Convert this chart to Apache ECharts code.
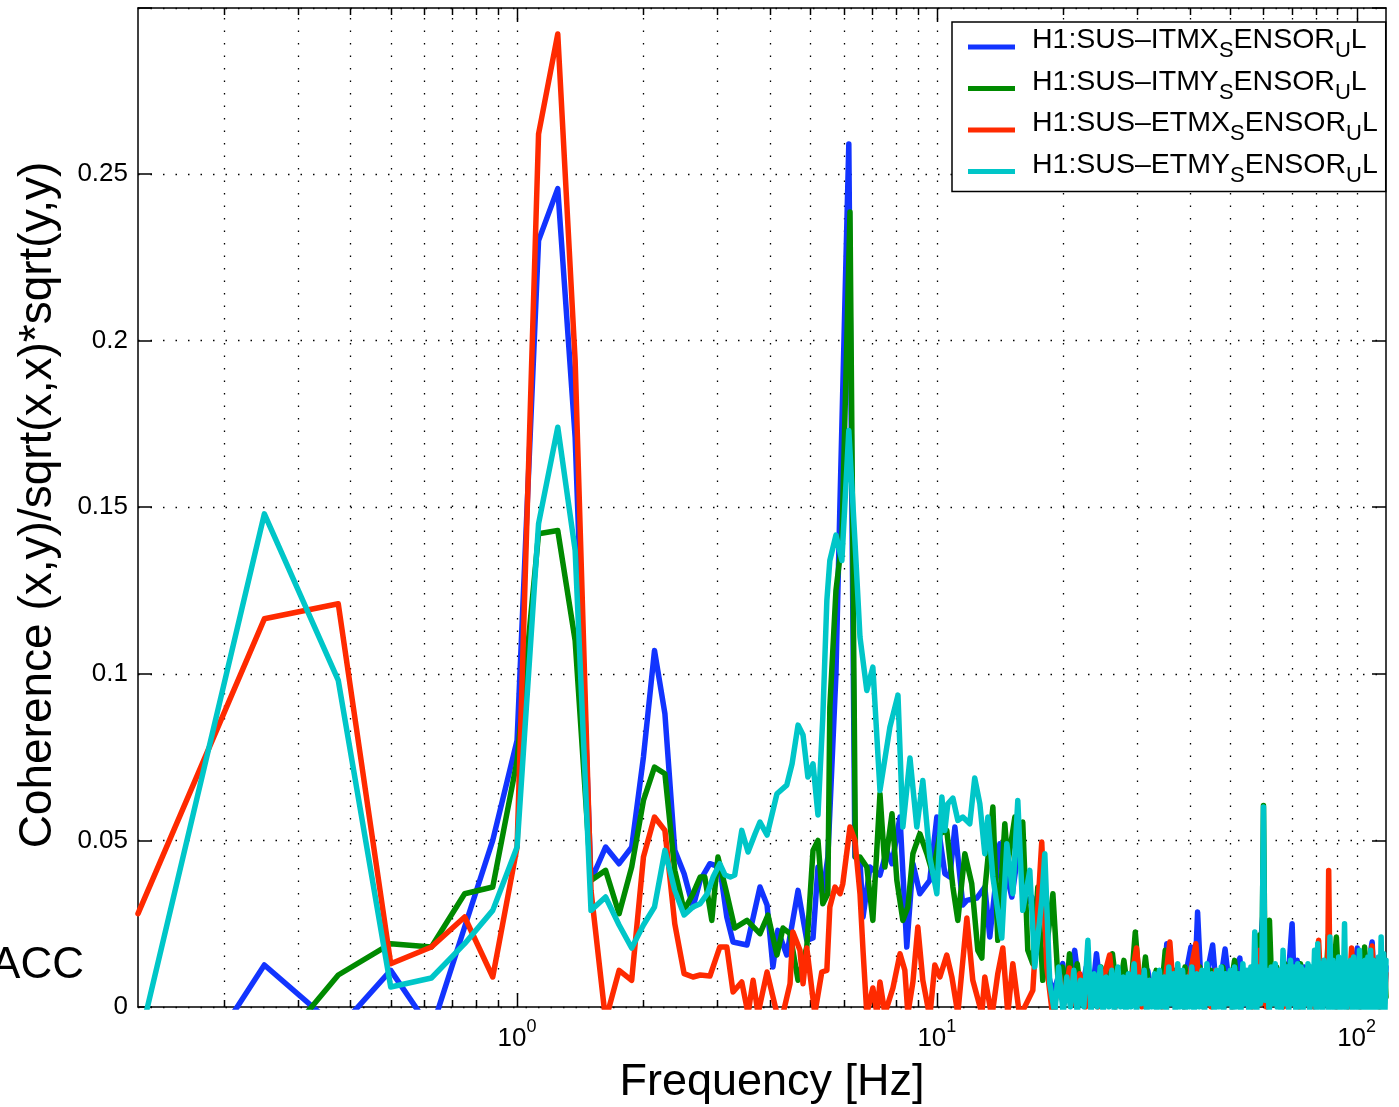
<!DOCTYPE html>
<html><head><meta charset="utf-8">
<script src="https://cdn.jsdelivr.net/npm/echarts@6/dist/echarts.min.js"></script>
<style>html,body{margin:0;padding:0;background:#fff;}#c{width:1399px;height:1107px;}</style>
</head><body><div id="c"></div>
<script>
const FONT = '"Liberation Sans", Arial, Helvetica, sans-serif';

// ---------- data ----------
const seriesNames = ['H1:SUS-ITMX_SENSOR_UL','H1:SUS-ITMY_SENSOR_UL','H1:SUS-ETMX_SENSOR_UL','H1:SUS-ETMY_SENSOR_UL'];
const gridFreqs = [0.2,0.3,0.4,0.5,0.6,0.7,0.8,0.9,1,2,3,4,5,6,7,8,9,10,20,30,40,50,60,70,80,90,100];
const majorFreqs = [1,10,100];
const xRange = [0.125, 117.5];
const yRange = [0, 0.2998];
const yStep = 0.05;

// [frequency (Hz), coherence]
const itmx = [[0.125,-0.046],[0.25,0.0126],[0.375,-0.0066],[0.5,0.011],[0.625,-0.007],[0.75,0.024],[0.875,0.050],[1.0,0.080],[1.125,0.230],[1.25,0.2456],[1.375,0.171],[1.5,0.038],[1.625,0.048],[1.75,0.043],[1.875,0.048],[2.0,0.075],[2.125,0.107],[2.25,0.088],[2.375,0.047],[2.5,0.040],[2.625,0.030],
[2.73,0.038],[2.88,0.043],[3.04,0.042],[3.16,0.027],[3.27,0.0195],[3.53,0.0186],[3.79,0.036],[3.94,0.0306],[4.07,0.012],[4.18,0.023],[4.39,0.0156],[4.67,0.035],[4.90,0.020],[5.07,0.0207],[5.21,0.042],[5.35,0.034],[5.5,0.045],[5.75,0.10],[5.875,0.15],[6.17,0.259],[6.38,0.045],[6.56,0.044],[6.67,0.027],[6.93,0.042],[7.32,0.0396],[7.60,0.047],[7.82,0.043],[8.17,0.057],[8.48,0.018],[8.77,0.043],[9.11,0.034],[9.62,0.038],[10.0,0.057],[10.45,0.040],[10.74,0.039],[11.04,0.054],[11.53,0.0306],[11.79,0.032],[12.45,0.0327],[13.01,0.036],[13.37,0.021],[14.13,0.049],[14.52,0.042],[15.09,0.033],[15.76,0.050],[16.20,0.031],[16.84,0.033],[17.30,0.019],[18.28,0.012],[18.89,0.004],
[19.95,0.013],[20.4,0.002],[21.3,0.017],[22.0,0.003],[22.7,0.012],[23.4,0.002],[24.0,0.016],[24.8,0.001],[25.8,0.010],[26.8,0.002],[27.8,0.011],[28.8,0.001],[29.8,0.009],[30.8,0.002],[31.8,0.011],[32.8,0.001],[33.8,0.009],[34.6,0.002],[35.3,0.019],[36.2,0.001],[37.2,0.010],[38.2,0.002],[39.2,0.010],[40.3,0.018],[41.0,0.002],[41.8,0.0285],[42.8,0.001],[44.0,0.010],[45.4,0.0186],[46.6,0.001],[48.6,0.0174],[50.2,0.002],[51.5,0.011],[52.7,0.0147],[54.0,0.001],[55.5,0.011],[57.0,0.002],[58.5,0.012],[60.0,0.030],[61.5,0.002],[63.0,0.012],[64.5,0.001],[66.0,0.011],[67.5,0.002],[69.0,0.012],[70.2,0.025],[71.2,0.002],[72.2,0.014],[73.5,0.001],[75.0,0.012],[76.5,0.002],[78.0,0.011],[79.5,0.001],[81.0,0.012],[82.5,0.002],[84.0,0.011],[85.5,0.001],[87.0,0.013],[88.5,0.002],[90.0,0.012],[91.5,0.001],[93.0,0.013],[94.5,0.002],[96.0,0.012],[97.5,0.001],[99.0,0.012],[100.4,0.0177],[102.0,0.002],[103.5,0.013],[105.0,0.001],[106.5,0.012],[108.9,0.0195],[110.5,0.002],[112.0,0.013],[113.5,0.001],[115.0,0.014],[116.5,0.002],[117.5,0.012]];

const itmy = [[0.125,-0.05],[0.25,-0.017],[0.375,0.0096],[0.5,0.019],[0.625,0.018],[0.75,0.034],[0.875,0.036],[1.0,0.074],[1.125,0.142],[1.25,0.143],[1.375,0.11],[1.5,0.038],[1.625,0.041],[1.75,0.028],[1.875,0.042],[2.0,0.062],[2.125,0.072],[2.25,0.070],[2.375,0.041],[2.5,0.029],[2.625,0.034],
[2.73,0.039],[2.80,0.039],[2.91,0.026],[3.01,0.045],[3.16,0.034],[3.30,0.0237],[3.53,0.026],[3.79,0.022],[3.96,0.0276],[4.16,0.0156],[4.30,0.0237],[4.47,0.022],[4.67,0.008],[4.90,0.018],[5.07,0.047],[5.21,0.050],[5.35,0.031],[5.50,0.034],[5.56,0.09],[5.75,0.125],[5.94,0.14],[6.21,0.2386],[6.40,0.045],[6.56,0.045],[6.81,0.042],[7.04,0.026],[7.32,0.064],[7.52,0.042],[7.82,0.058],[8.03,0.038],[8.30,0.026],[8.53,0.030],[8.77,0.046],[9.11,0.052],[9.47,0.046],[9.78,0.040],[10.17,0.052],[10.56,0.053],[10.92,0.036],[11.22,0.026],[11.66,0.046],[12.11,0.037],[12.52,0.017],[12.80,0.0147],[13.01,0.035],[13.60,0.060],[13.97,0.020],[14.52,0.055],[14.76,0.043],[15.34,0.057],[15.76,0.046],[16.02,0.0555],[16.47,0.017],[16.93,0.013],[17.40,0.036],[17.88,0.008],[18.9,0.034],[19.42,0.009],
[19.9,0.012],[20.3,0.002],[20.7,0.016],[21.2,0.002],[21.6,0.013],[22.2,0.001],[23.0,0.011],[23.8,0.002],[24.6,0.012],[25.4,0.001],[26.2,0.016],[27.0,0.002],[27.9,0.014],[28.8,0.001],[29.7,0.0225],[30.6,0.002],[31.4,0.015],[32.3,0.001],[33.3,0.011],[34.2,0.002],[35.0,0.017],[36.0,0.001],[37.0,0.011],[38.0,0.002],[39.0,0.012],[40.0,0.001],[42.3,0.012],[43.5,0.002],[45.0,0.011],[46.5,0.001],[48.0,0.012],[49.5,0.002],[51.2,0.014],[52.5,0.001],[54.0,0.011],[55.5,0.002],[57.0,0.012],[58.7,0.0216],[59.4,0.002],[60.0,0.0605],[60.6,0.002],[62.0,0.026],[63.0,0.001],[64.5,0.012],[66.0,0.002],[67.5,0.013],[69.0,0.001],[70.5,0.012],[72.0,0.002],[73.5,0.013],[75.0,0.001],[76.5,0.012],[78.0,0.002],[79.5,0.012],[81.0,0.001],[82.5,0.013],[84.0,0.002],[85.7,0.0216],[87.0,0.001],[89.5,0.021],[91.0,0.002],[92.5,0.013],[94.0,0.001],[95.5,0.012],[97.0,0.002],[98.5,0.013],[100.0,0.001],[101.5,0.012],[103.0,0.002],[104.5,0.018],[106.0,0.001],[107.5,0.013],[109.0,0.002],[110.5,0.014],[112.0,0.001],[113.5,0.013],[115.0,0.002],[116.5,0.014],[117.5,0.003]];

const etmx = [[0.125,0.028],[0.25,0.1165],[0.375,0.121],[0.5,0.013],[0.625,0.018],[0.75,0.027],[0.875,0.009],[1.0,0.048],[1.125,0.262],[1.25,0.292],[1.375,0.194],[1.5,0.035],[1.625,-0.004],[1.75,0.011],[1.875,0.008],[2.0,0.045],[2.125,0.057],[2.25,0.053],[2.375,0.025],[2.5,0.010],[2.625,0.009],
[2.73,0.0096],[2.88,0.0093],[3.04,0.018],[3.16,0.018],[3.27,0.0045],[3.43,0.0075],[3.55,-0.002],[3.65,0.008],[3.75,-0.002],[3.94,0.0105],[4.16,-0.002],[4.30,-0.002],[4.47,0.007],[4.54,0.0225],[4.72,0.017],[4.80,0.007],[4.90,0.0177],[5.12,-0.002],[5.32,0.0105],[5.47,0.011],[5.56,0.030],[5.72,0.036],[5.88,0.034],[5.97,0.037],[6.21,0.054],[6.38,0.050],[6.56,0.034],[6.67,0.017],[6.81,-0.002],[7.04,0.0057],[7.20,-0.002],[7.32,0.0075],[7.52,-0.002],[7.86,0.0057],[8.17,0.016],[8.39,0.011],[8.53,-0.002],[8.77,0.0075],[9.01,0.024],[9.26,0.008],[9.62,-0.003],[9.89,0.0126],[10.17,0.009],[10.56,0.0156],[10.86,0.009],[11.22,-0.002],[11.79,0.0267],[12.18,0.008],[12.80,-0.002],[13.01,0.009],[13.52,-0.003],[13.97,0.010],[14.36,0.0177],[14.76,-0.002],[15.17,0.013],[15.76,-0.003],[16.93,0.005],[17.78,0.0495],[18.28,0.012],[18.89,-0.003],
[19.6,0.0096],[20.1,0.001],[20.7,0.0117],[21.3,0.001],[21.9,0.010],[22.6,0.0],[23.4,0.008],[24.2,0.0],[25.0,0.009],[25.8,0.0156],[26.6,0.0],[27.4,0.008],[28.2,0.001],[29.1,0.009],[29.9,0.0177],[30.8,0.0],[31.7,0.008],[32.6,0.001],[33.5,0.009],[34.4,0.0],[35.9,0.0195],[36.8,0.001],[37.8,0.008],[38.8,0.0],[40.0,0.009],[41.4,0.019],[42.5,0.001],[44.0,0.009],[45.0,0.0],[46.2,0.011],[47.5,0.001],[49.0,0.009],[50.5,0.0],[52.0,0.009],[53.5,0.001],[55.0,0.010],[56.5,0.0],[57.5,0.009],[58.75,0.017],[59.5,0.001],[60.0,0.012],[61.0,0.0],[62.5,0.009],[64.0,0.001],[65.5,0.010],[67.0,0.0],[68.5,0.009],[70.0,0.001],[71.5,0.010],[73.0,0.0],[74.5,0.009],[76.0,0.001],[77.5,0.010],[79.0,0.0],[80.0,0.011],[81.2,0.020],[82.5,0.001],[84.0,0.010],[85.2,0.001],[85.8,0.041],[86.5,0.002],[88.0,0.010],[89.5,0.0],[91.0,0.011],[92.5,0.001],[94.0,0.010],[95.5,0.0],[97.3,0.0177],[98.8,0.001],[100.5,0.011],[102.0,0.0],[103.5,0.012],[105.0,0.001],[106.5,0.011],[108.9,0.0183],[110.5,0.001],[112.0,0.012],[113.5,0.0],[115.0,0.013],[116.5,0.001],[117.5,0.010]];

const etmy = [[0.125,-0.012],[0.25,0.148],[0.375,0.098],[0.5,0.006],[0.625,0.0087],[0.75,0.019],[0.875,0.029],[1.0,0.048],[1.125,0.145],[1.25,0.174],[1.375,0.137],[1.5,0.029],[1.625,0.033],[1.75,0.0246],[1.875,0.0177],[2.0,0.0246],[2.125,0.030],[2.25,0.047],[2.375,0.035],[2.5,0.0276],[2.625,0.030],
[2.73,0.031],[2.84,0.034],[2.93,0.039],[3.04,0.043],[3.13,0.0396],[3.22,0.039],[3.30,0.0396],[3.43,0.053],[3.55,0.0465],[3.69,0.052],[3.79,0.0555],[3.94,0.0516],[4.16,0.064],[4.39,0.0666],[4.52,0.073],[4.67,0.0846],[4.80,0.0816],[4.93,0.069],[5.07,0.073],[5.21,0.0576],[5.35,0.087],[5.47,0.122],[5.56,0.134],[5.75,0.1416],[5.94,0.134],[6.17,0.173],[6.38,0.140],[6.56,0.111],[6.81,0.095],[7.04,0.102],[7.32,0.065],[7.73,0.084],[8.08,0.0936],[8.30,0.054],[8.63,0.0747],[8.96,0.054],[9.26,0.068],[9.62,0.045],[10.0,0.034],[10.28,0.063],[10.45,0.053],[10.62,0.061],[10.92,0.0627],[11.22,0.056],[11.53,0.057],[11.98,0.055],[12.31,0.0687],[12.66,0.061],[13.01,0.046],[13.23,0.057],[13.60,0.039],[14.28,0.0207],[14.68,0.049],[15.17,0.034],[15.59,0.062],[16.02,0.029],[16.65,0.041],[17.11,0.012],[17.78,0.032],[18.08,0.046],[18.58,0.007],[19.10,-0.002],
[19.5,0.012],[20.0,-0.002],[20.4,0.009],[20.8,0.0],[21.2,0.011],[21.6,-0.002],[22.0,0.008],[22.4,0.0],[22.9,0.020],[23.3,-0.002],[23.7,0.010],[24.1,0.0],[24.5,0.012],[24.9,-0.002],[25.3,0.009],[25.7,0.0],[26.1,0.011],[26.5,-0.002],[27.0,0.012],[27.4,0.0],[27.8,0.009],[28.2,-0.002],[28.6,0.010],[29.0,0.0],[29.5,0.013],[29.9,-0.002],[30.3,0.009],[30.7,0.001],[31.2,0.011],[31.6,-0.002],[32.1,0.008],[32.5,0.0],[33.0,0.010],[33.4,-0.002],[33.9,0.011],[34.3,0.0],[34.8,0.009],[35.2,-0.002],[35.7,0.012],[36.1,0.001],[36.6,0.010],[37.0,-0.002],[37.5,0.013],[38.0,0.0],[38.5,0.011],[39.0,-0.002],[39.5,0.009],[40.0,0.0],[40.5,0.012],[41.0,-0.002],[41.6,0.010],[42.2,0.0],[42.8,0.011],[43.4,-0.002],[44.0,0.013],[44.6,0.001],[45.2,0.010],[45.8,-0.002],[46.4,0.011],[47.0,0.0],[47.6,0.012],[48.2,-0.002],[48.8,0.010],[49.4,0.001],[50.0,0.011],[50.6,-0.002],[51.2,0.012],[51.8,0.0],[52.4,0.010],[53.0,-0.002],[53.6,0.013],[54.2,0.001],[54.8,0.011],[55.4,-0.002],[56.0,0.012],[56.6,0.0],[57.2,0.0225],[57.8,-0.002],[58.4,0.012],[59.0,0.001],[59.5,0.013],[60.0,0.060],[60.5,0.002],[61.2,0.011],[61.9,-0.002],[62.6,0.012],[63.3,0.001],[64.0,0.013],[64.7,0.0],[65.4,0.011],[66.1,-0.002],[66.8,0.017],[67.5,0.001],[68.2,0.012],[68.9,-0.002],[69.6,0.014],[70.3,0.001],[71.0,0.012],[71.7,-0.002],[72.4,0.013],[73.1,0.0],[73.8,0.012],[74.5,-0.002],[75.2,0.011],[75.9,0.001],[76.6,0.013],[77.3,-0.002],[78.0,0.012],[78.7,0.001],[79.4,0.017],[80.1,-0.002],[80.8,0.019],[81.5,0.0],[82.2,0.013],[82.9,-0.002],[83.6,0.014],[84.3,0.001],[85.0,0.013],[85.7,-0.002],[86.4,0.021],[87.1,0.0],[87.8,0.014],[88.5,-0.002],[89.2,0.013],[89.9,0.001],[90.6,0.015],[91.3,-0.002],[92.0,0.014],[92.8,0.0],[93.6,0.025],[94.4,-0.002],[95.2,0.013],[96.0,0.001],[96.8,0.014],[97.6,-0.002],[98.4,0.015],[99.2,0.0],[100.0,0.013],[100.8,-0.002],[101.6,0.017],[102.4,0.001],[103.2,0.013],[104.0,-0.002],[104.8,0.014],[105.6,0.0],[106.4,0.015],[107.2,-0.002],[108.0,0.017],[108.8,0.001],[109.6,0.014],[110.4,-0.002],[111.2,0.013],[112.0,0.0],[112.8,0.015],[113.6,-0.002],[114.4,0.021],[115.2,0.001],[116.0,0.016],[116.8,-0.002],[117.5,0.014]];

const seriesData = [itmx, itmy, etmx, etmy];
const seriesColors = ['#1234ff', '#008a00', '#ff2a00', '#00c6c8'];

// ---------- chart ----------
const chart = echarts.init(document.getElementById('c'), null, {renderer: 'canvas'});

function xLabel(v) {
  const e = Math.log10(v), r = Math.round(e);
  if (Math.abs(e - r) > 1e-6) return '';
  return '{b|10}{s|' + r + '}';
}
function legendLabel(name) {
  const p = name.split('_');
  return '{h|' + p[0].replace('-', '\u2013') + '}{s|' + p[1][0] + '}{t|' + p[1].slice(1) + '}{s|' + p[2][0] + '}{t|' + p[2].slice(1) + '}';
}
const axisLineStyle = {color: '#000', width: 1.5};

const lineSeries = seriesNames.map((n, i) => ({
  name: n, type: 'line', data: seriesData[i], xAxisIndex: 0, yAxisIndex: 0,
  showSymbol: false, symbol: 'none', clip: true, z: 3 + i,
  lineStyle: {color: seriesColors[i], width: 5.5, cap: 'round', join: 'round'},
  itemStyle: {color: seriesColors[i]},
  emphasis: {disabled: true}
}));

const gridSeries = {
  type: 'custom', name: '__grid', silent: true, z: 1, clip: false,
  xAxisIndex: 0, yAxisIndex: 0, encode: {x: 0, y: 1},
  data: gridFreqs.map(f => [f, 0, majorFreqs.indexOf(f) >= 0 ? 1 : 0]),
  renderItem: function (params, api) {
    const p = api.coord([api.value(0), 0]);
    const cs = params.coordSys;
    const x = Math.round(p[0]) + 0.5;
    const top = cs.y, bot = cs.y + cs.height;
    const len = api.value(2) ? 14 : 7;
    return {type: 'group', children: [
      {type: 'line', shape: {x1: x, y1: bot, x2: x, y2: top}, style: {stroke: '#000', lineWidth: 1.3, lineDash: [1.5, 11]}},
      {type: 'line', shape: {x1: x, y1: bot, x2: x, y2: bot - len}, style: {stroke: '#000', lineWidth: 1.5}},
      {type: 'line', shape: {x1: x, y1: top, x2: x, y2: top + len}, style: {stroke: '#000', lineWidth: 1.5}}
    ]};
  }
};

const tStyle = {fontSize: 28.5, fontFamily: FONT, color: '#000', verticalAlign: 'top'};
const option = {
  animation: false,
  backgroundColor: '#fff',
  grid: {left: 138, right: 13, top: 8, bottom: 100},
  xAxis: [
    {type: 'log', logBase: 10, min: xRange[0], max: xRange[1], position: 'bottom',
     axisLine: {show: true, onZero: false, lineStyle: axisLineStyle},
     axisTick: {show: false}, splitLine: {show: false}, minorTick: {show: false},
     axisLabel: {margin: 11, formatter: xLabel, color: '#000',
       rich: {b: {fontSize: 26, fontFamily: FONT, color: '#000', verticalAlign: 'top', padding: [8, 0, 0, 0]},
              s: {fontSize: 18, fontFamily: FONT, color: '#000', verticalAlign: 'top'}}}},
    {type: 'log', logBase: 10, min: xRange[0], max: xRange[1], position: 'top',
     axisLine: {show: true, onZero: false, lineStyle: axisLineStyle},
     axisTick: {show: false}, axisLabel: {show: false}, splitLine: {show: false}}
  ],
  yAxis: [
    {type: 'value', min: yRange[0], max: yRange[1], interval: yStep, position: 'left',
     axisLine: {show: true, lineStyle: axisLineStyle},
     axisTick: {show: true, inside: true, length: 14, lineStyle: axisLineStyle},
     axisLabel: {margin: 10, fontSize: 26, fontFamily: FONT, color: '#000',
       formatter: v => (v > 0.26 ? '' : String(+v.toFixed(2)))},
     splitLine: {show: true, lineStyle: {color: '#000', width: 1.3, type: [1.5, 11]}}},
    {type: 'value', min: yRange[0], max: yRange[1], interval: yStep, position: 'right',
     axisLine: {show: true, lineStyle: axisLineStyle},
     axisTick: {show: true, inside: true, length: 14, lineStyle: axisLineStyle},
     axisLabel: {show: false}, splitLine: {show: false}}
  ],
  legend: {
    data: seriesNames, orient: 'vertical', left: 952, top: 22,
    padding: [4, 8, 5, 16], itemGap: 5.5, itemWidth: 47, itemHeight: 5,
    icon: 'rect', borderColor: '#000', borderWidth: 1.5, borderRadius: 0, backgroundColor: '#fff',
    selectedMode: false, formatter: legendLabel,
    textStyle: {color: '#000', fontFamily: FONT,
      rich: {h: Object.assign({}, tStyle, {padding: [0, 0, 0, 12]}),
             t: tStyle,
             s: {fontSize: 22, fontFamily: FONT, color: '#000', verticalAlign: 'top', padding: [14, 0, 6, 0]}}}
  },
  graphic: [
    {type: 'text', x: 38, y: 505, rotation: Math.PI / 2, silent: true,
     style: {text: 'Coherence (x,y)/sqrt(x,x)*sqrt(y,y)', fontSize: 46, fontFamily: FONT, fill: '#000', align: 'center', verticalAlign: 'middle'}},
    {type: 'text', x: 772, y: 1083, silent: true,
     style: {text: 'Frequency [Hz]', fontSize: 45, fontFamily: FONT, fill: '#000', align: 'center', verticalAlign: 'middle'}},
    {type: 'text', x: 84, y: 966, silent: true,
     style: {text: 'ACC', fontSize: 44, fontFamily: FONT, fill: '#000', align: 'right', verticalAlign: 'middle'}}
  ],
  series: [gridSeries].concat(lineSeries)
};
chart.setOption(option);
</script></body></html>
